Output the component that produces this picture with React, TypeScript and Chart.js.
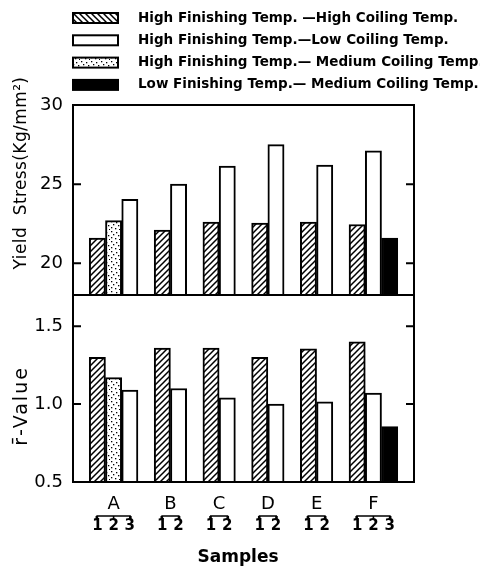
import React, { useEffect, useRef } from 'react';
import { Chart, registerables } from 'chart.js';

Chart.register(...registerables);

// ---------- data ----------
const samples = ['A', 'B', 'C', 'D', 'E', 'F'];
const seriesKeys = ['HH', 'HL', 'HM', 'LM'];
const seriesNames = [
  'High Finishing Temp. \u2014High Coiling Temp.',
  'High Finishing Temp.\u2014Low Coiling Temp.',
  'High Finishing Temp.\u2014 Medium Coiling Temp.',
  'Low Finishing Temp.\u2014 Medium Coiling Temp.',
];
// which series appear (in order) within each sample
const barOrder: Record<string, string[]> = {
  A: ['HH', 'HM', 'HL'],
  B: ['HH', 'HL'],
  C: ['HH', 'HL'],
  D: ['HH', 'HL'],
  E: ['HH', 'HL'],
  F: ['HH', 'HL', 'LM'],
};

// Yield stress (Kg/mm^2), per sample A..F
const yieldHH = [21.6, 22.1, 22.6, 22.55, 22.6, 22.45];
const yieldHL = [24.05, 25.0, 26.15, 27.5, 26.2, 27.1];
const yieldHM = [22.7, null, null, null, null, null];
const yieldLM = [null, null, null, null, null, 21.6];

// r-bar value, per sample A..F
const rHH = [1.3, 1.36, 1.36, 1.3, 1.355, 1.4];
const rHL = [1.09, 1.1, 1.04, 1.0, 1.015, 1.07];
const rHM = [1.17, null, null, null, null, null];
const rLM = [null, null, null, null, null, 0.855];

const yieldMin = 18;
const yieldMax = 30;
const yieldStep = 5;
const rMin = 0.5;
const rMax = 1.7;
const rStep = 0.5;

const yieldTitle = 'Yield  Stress(Kg/mm\u00B2)';
const rTitle = 'r\u0304-Value';
const xTitle = 'Samples';

// ---------- build slot table ----------
type Slot = { sample: string; key: string } | null;
const slots: Slot[] = [null];
const slotLabels: string[] = [''];
samples.forEach((s) => {
  barOrder[s].forEach((k, i) => {
    slots.push({ sample: s, key: k });
    slotLabels.push(String(i + 1));
  });
  slots.push(null);
  slotLabels.push('');
});

const yieldVals: Record<string, (number | null)[]> = { HH: yieldHH, HL: yieldHL, HM: yieldHM, LM: yieldLM };
const rVals: Record<string, (number | null)[]> = { HH: rHH, HL: rHL, HM: rHM, LM: rLM };

function seriesData(vals: Record<string, (number | null)[]>, key: string) {
  return slots.map((sl) => (sl && sl.key === key ? vals[key][samples.indexOf(sl.sample)] : null));
}

function makeHatch(dir: number) {
  const c = document.createElement('canvas');
  c.width = 6;
  c.height = 6;
  const g = c.getContext('2d')!;
  g.fillStyle = '#fff';
  g.fillRect(0, 0, 6, 6);
  g.strokeStyle = '#000';
  g.lineWidth = 1.5;
  g.beginPath();
  if (dir > 0) {
    g.moveTo(-1, 7); g.lineTo(7, -1);
    g.moveTo(-1, 1); g.lineTo(1, -1);
    g.moveTo(5, 7); g.lineTo(7, 5);
  } else {
    g.moveTo(-1, -1); g.lineTo(7, 7);
    g.moveTo(5, -1); g.lineTo(7, 1);
    g.moveTo(-1, 5); g.lineTo(1, 7);
  }
  g.stroke();
  return g.createPattern(c, 'repeat')!;
}

function makeDots() {
  const c = document.createElement('canvas');
  c.width = 10;
  c.height = 10;
  const g = c.getContext('2d')!;
  g.fillStyle = '#fff';
  g.fillRect(0, 0, 10, 10);
  g.fillStyle = '#000';
  const pts = [[1, 1], [6, 2], [3, 4], [8, 5], [1, 7], [5, 8], [9, 9]];
  pts.forEach(([x, y]) => g.fillRect(x, y, 1.3, 1.3));
  return g.createPattern(c, 'repeat')!;
}

const FONT = '"DejaVu Sans", sans-serif';

export default function App() {
  const ref = useRef<HTMLCanvasElement>(null);

  useEffect(() => {
    const hatchBar = makeHatch(1);
    const hatchLegend = makeHatch(-1);
    const dots = makeDots();
    const fills: Record<string, any> = { HH: hatchBar, HL: '#fff', HM: dots, LM: '#000' };
    const legendFills = [hatchLegend, '#fff', dots, '#000'];

    const datasets: any[] = [];
    seriesKeys.forEach((k) => {
      datasets.push({
        label: k + '-yield',
        data: seriesData(yieldVals, k),
        yAxisID: 'yTop',
        backgroundColor: fills[k],
        borderColor: '#000',
        borderWidth: 2,
        grouped: false,
        barPercentage: 1,
        categoryPercentage: 1,
      });
      datasets.push({
        label: k + '-r',
        data: seriesData(rVals, k),
        yAxisID: 'yBot',
        backgroundColor: fills[k],
        borderColor: '#000',
        borderWidth: 2,
        grouped: false,
        barPercentage: 1,
        categoryPercentage: 1,
      });
    });

    const decor = {
      id: 'decor',
      afterDatasetsDraw(chart: any) {
        const { ctx, chartArea: a, scales } = chart;
        const top = scales.yTop;
        const bot = scales.yBot;
        const xs = scales.x;
        ctx.save();
        ctx.strokeStyle = '#000';
        ctx.lineWidth = 2;
        ctx.strokeRect(a.left, a.top, a.right - a.left, a.bottom - a.top);
        ctx.beginPath();
        ctx.moveTo(a.left, top.bottom);
        ctx.lineTo(a.right, top.bottom);
        ctx.stroke();
        // inward tick marks
        [top, bot].forEach((s: any) => {
          s.ticks.forEach((t: any) => {
            const y = s.getPixelForValue(t.value);
            ctx.beginPath();
            ctx.moveTo(a.left, y);
            ctx.lineTo(a.left + 8, y);
            ctx.moveTo(a.right - 8, y);
            ctx.lineTo(a.right, y);
            ctx.stroke();
          });
        });
        // sample letters and brackets
        ctx.fillStyle = '#000';
        samples.forEach((s) => {
          const idx: number[] = [];
          slots.forEach((sl, i) => { if (sl && sl.sample === s) idx.push(i); });
          const px = idx.map((i) => xs.getPixelForValue(i));
          const x1 = px[0];
          const x2 = px[px.length - 1];
          ctx.font = '18px ' + FONT;
          ctx.textAlign = 'center';
          ctx.textBaseline = 'middle';
          ctx.fillText(s, (x1 + x2) / 2, 504);
          ctx.lineWidth = 1.6;
          ctx.beginPath();
          ctx.moveTo(x1 - 1, 516);
          ctx.lineTo(x2 + 1, 516);
          px.forEach((p) => { ctx.moveTo(p, 516); ctx.lineTo(p, 520); });
          ctx.moveTo(x1 - 1, 516); ctx.lineTo(x1 - 1, 520);
          ctx.moveTo(x2 + 1, 516); ctx.lineTo(x2 + 1, 520);
          ctx.stroke();
        });
        // axis titles
        ctx.font = 'bold 17px ' + FONT;
        ctx.textAlign = 'center';
        ctx.fillText(xTitle, 238, 558);
        ctx.font = '17px ' + FONT;
        (ctx as any).letterSpacing = '0.4px';
        ctx.save();
        ctx.translate(22, 173);
        ctx.rotate(-Math.PI / 2);
        ctx.fillText(yieldTitle, 0, 0);
        ctx.restore();
        ctx.font = '19px ' + FONT;
        (ctx as any).letterSpacing = '2px';
        ctx.save();
        ctx.translate(22, 406);
        ctx.rotate(-Math.PI / 2);
        ctx.fillText(rTitle, 0, 0);
        ctx.restore();
        (ctx as any).letterSpacing = '0px';
        // legend
        ctx.font = 'bold 13.5px ' + FONT;
        ctx.textAlign = 'left';
        ctx.textBaseline = 'middle';
        seriesNames.forEach((name, i) => {
          const cy = 18 + i * 22.3;
          ctx.fillStyle = legendFills[i];
          ctx.fillRect(73, cy - 5, 45, 10);
          ctx.lineWidth = 2;
          ctx.strokeStyle = '#000';
          ctx.strokeRect(73, cy - 5, 45, 10);
          ctx.fillStyle = '#000';
          ctx.fillText(name, 138, cy);
        });
        ctx.restore();
      },
    };

    const chart = new Chart(ref.current!, {
      type: 'bar',
      data: { labels: slotLabels, datasets },
      options: {
        animation: false,
        responsive: true,
        maintainAspectRatio: false,
        layout: { padding: { top: 105, right: 66, left: 0, bottom: 0 } },
        plugins: { legend: { display: false }, tooltip: { enabled: false } },
        scales: {
          x: {
            type: 'category',
            grid: { display: false, drawTicks: false },
            border: { display: false },
            ticks: {
              autoSkip: false,
              maxRotation: 0,
              padding: 35,
              color: '#000',
              font: { family: FONT, size: 15, weight: 'bold' },
            },
            afterFit: (s: any) => { s.height = 88; },
          },
          yTop: {
            type: 'linear',
            position: 'left',
            stack: 'panels',
            stackWeight: 190,
            weight: 2,
            min: yieldMin,
            max: yieldMax,
            grid: { display: false, drawTicks: false },
            border: { display: false },
            ticks: {
              stepSize: yieldStep,
              includeBounds: false,
              padding: 10,
              color: '#000',
              font: { family: FONT, size: 18 },
              callback: (v: any) => String(v),
            },
            afterFit: (s: any) => { s.width = 73; },
          },
          yBot: {
            type: 'linear',
            position: 'left',
            stack: 'panels',
            stackWeight: 187,
            weight: 1,
            min: rMin,
            max: rMax,
            grid: { display: false, drawTicks: false },
            border: { display: false },
            ticks: {
              stepSize: rStep,
              includeBounds: false,
              padding: 10,
              color: '#000',
              font: { family: FONT, size: 18 },
              callback: (v: any) => Number(v).toFixed(1),
            },
            afterFit: (s: any) => { s.width = 73; },
          },
        },
      },
      plugins: [decor],
    });
    return () => chart.destroy();
  }, []);

  return (
    <div style={{ position: 'absolute', left: 0, top: 0, width: 480, height: 570, background: '#fff' }}>
      <canvas ref={ref} />
    </div>
  );
}
